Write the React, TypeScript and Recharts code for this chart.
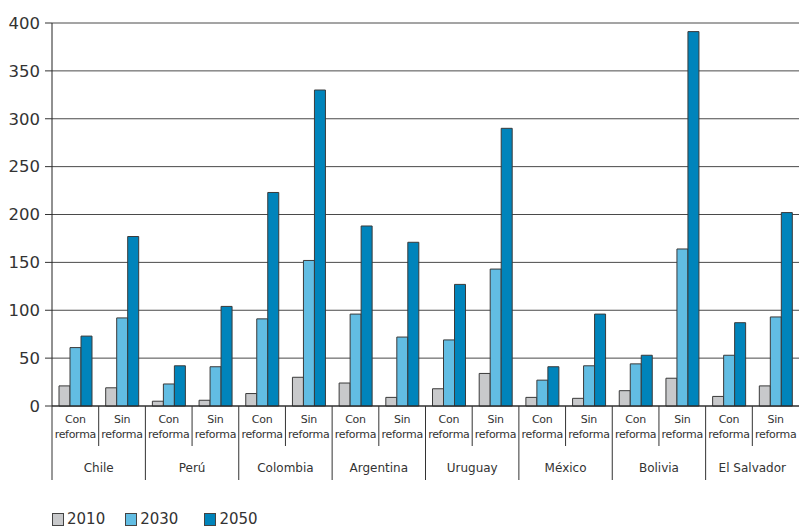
import { BarChart, Bar, XAxis, YAxis, CartesianGrid, Legend } from 'recharts';

const countries = ['Chile', 'Perú', 'Colombia', 'Argentina', 'Uruguay', 'México', 'Bolivia', 'El Salvador'];
const scenarios = ['Con reforma', 'Sin reforma'];

// one value per country/scenario pair, in the order Con, Sin
const v2010 = [21, 19, 5, 6, 13, 30, 24, 9, 18, 34, 9, 8, 16, 29, 10, 21];
const v2030 = [61, 92, 23, 41, 91, 152, 96, 72, 69, 143, 27, 42, 44, 164, 53, 93];
const v2050 = [73, 177, 42, 104, 223, 330, 188, 171, 127, 290, 41, 96, 53, 391, 87, 202];

const yTicks = [0, 50, 100, 150, 200, 250, 300, 350, 400];

const series = [
  { key: 'y2010', name: '2010', color: '#c8c9cb' },
  { key: 'y2030', name: '2030', color: '#62bde3' },
  { key: 'y2050', name: '2050', color: '#0084bb' },
];

const data = countries.flatMap((country, gi) =>
  scenarios.map((scenario, si) => {
    const i = gi * 2 + si;
    return {
      key: `${country}|${scenario}`,
      country,
      scenario,
      y2010: v2010[i],
      y2030: v2030[i],
      y2050: v2050[i],
    };
  })
);

const W = 799;
const H = 528;
const LEFT = 52;
const BAND = (W - LEFT) / data.length;
const FONT = '"DejaVu Sans", sans-serif';
const INK = '#333';

// two-level category axis: scenario under each band, country under each pair
function CategoryTick(props: any) {
  const { x, y, index } = props;
  const row = data[index];
  if (!row) return null;
  const [first, second] = row.scenario.split(' ');
  const isSin = index % 2 === 1;
  const right = x + BAND / 2;
  const sub = { textAnchor: 'middle' as const, fontSize: 11, letterSpacing: -0.3, fill: INK, fontFamily: FONT };
  return (
    <g>
      <text x={x} y={y + 17} {...sub}>{first}</text>
      <text x={x} y={y + 32} {...sub}>{second}</text>
      {index === 0 && <line x1={x - BAND / 2} x2={x - BAND / 2} y1={y} y2={y + 74} stroke={INK} />}
      {!isSin && <line x1={right} x2={right} y1={y} y2={y + 40} stroke={INK} />}
      {isSin && index < data.length - 1 && <line x1={right} x2={right} y1={y} y2={y + 74} stroke={INK} />}
      {isSin && (
        <text x={x - BAND / 2} y={y + 66} textAnchor="middle" fontSize={12} fill={INK} fontFamily={FONT}>
          {row.country}
        </text>
      )}
    </g>
  );
}

function YearLegend() {
  return (
    <div style={{ display: 'flex', fontFamily: FONT, fontSize: 15, color: INK, lineHeight: '15px' }}>
      {series.map((s, i) => (
        <div key={s.key} style={{ display: 'flex', alignItems: 'center', marginRight: i === 0 ? 20 : 26 }}>
          <span style={{ width: 10, height: 11, background: s.color, border: '1px solid #444', marginRight: 3 }} />
          <span>{s.name}</span>
        </div>
      ))}
    </div>
  );
}

export default function App() {
  return (
    <div style={{ position: 'absolute', left: 0, top: 0, background: '#fff' }}>
      <BarChart
        width={W}
        height={H}
        data={data}
        margin={{ top: 23, right: 0, left: 0, bottom: 0 }}
        barGap={0}
        barCategoryGap={7}
      >
        <CartesianGrid vertical={false} stroke="#4a4a4a" strokeWidth={1} />
        <XAxis
          dataKey="key"
          interval={0}
          height={122}
          tickLine={false}
          tickSize={0}
          tickMargin={0}
          axisLine={{ stroke: '#222' }}
          tick={<CategoryTick />}
        />
        <YAxis
          domain={[0, 400]}
          ticks={yTicks}
          width={LEFT}
          tickSize={7}
          tickMargin={5}
          axisLine={{ stroke: '#222' }}
          tickLine={{ stroke: INK }}
          tick={{ fontSize: 16.5, fill: INK, fontFamily: FONT }}
        />
        <Legend
          layout="horizontal"
          verticalAlign="middle"
          align="center"
          wrapperStyle={{ top: 512, left: 52, width: 300, height: 15 }}
          content={<YearLegend />}
        />
        {series.map(s => (
          <Bar
            key={s.key}
            dataKey={s.key}
            name={s.name}
            fill={s.color}
            stroke="#3a3a3a"
            strokeWidth={1}
            isAnimationActive={false}
          />
        ))}
      </BarChart>
    </div>
  );
}
